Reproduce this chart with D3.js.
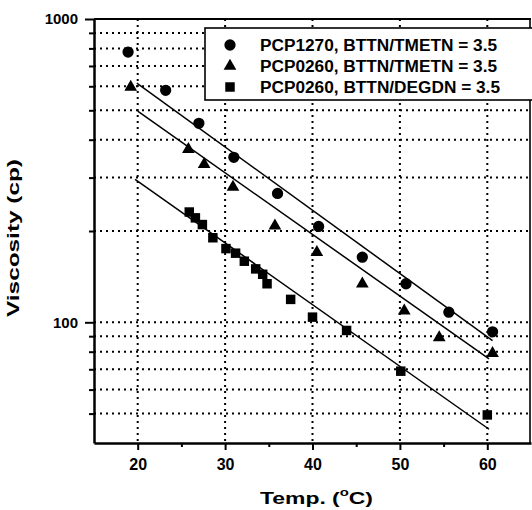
<!DOCTYPE html>
<html>
<head>
<meta charset="utf-8">
<script src="https://cdn.jsdelivr.net/npm/d3@7"></script>
<style>
body { margin: 0; background: #fff; }
svg { display: block; font-family: "Liberation Sans", Arial, sans-serif; }
</style>
</head>
<body>
<div id="chart"></div>
<script>
// PCP1270, BTTN/TMETN = 3.5
var circleTemp = [18.9, 23.2, 27.0, 31.0, 36.0, 40.7, 45.7, 50.7, 55.6, 60.6]
var circleVisc = [778, 582, 453, 350, 266, 207, 164, 134, 108, 93]
// PCP0260, BTTN/TMETN = 3.5
var triTemp = [19.2, 25.8, 27.6, 30.9, 35.7, 40.5, 45.7, 50.5, 54.5, 60.6]
var triVisc = [596, 372, 332, 279, 208, 170, 134, 109, 89, 79]
// PCP0260, BTTN/DEGDN = 3.5
var sqTemp = [25.9, 26.6, 27.4, 28.6, 30.1, 31.2, 32.2, 33.5, 34.3, 34.8, 37.5, 40.0, 43.9, 50.1, 60.0]
var sqVisc = [231, 221, 210, 190, 175, 169, 159, 150, 144, 134, 119, 104, 94, 69, 49.5]

// fitted lines (end points)
var fitTempCircle = [19.9, 60.6]
var fitViscCircle = [615, 87]
var fitTempTri = [20.0, 60.2]
var fitViscTri = [497, 75.7]
var fitTempSq = [19.7, 60.2]
var fitViscSq = [296, 44.4]

var legendLabels = ["PCP1270, BTTN/TMETN = 3.5", "PCP0260, BTTN/TMETN = 3.5", "PCP0260, BTTN/DEGDN = 3.5"]

var xTicks = [20, 25, 30, 35, 40, 45, 50, 55, 60]
var xGrid = [20, 30, 40, 50, 60]
var yTicks = [50, 60, 70, 80, 90, 100, 200, 300, 400, 500, 600, 700, 800, 900, 1000]
var yGrid = [50, 60, 70, 80, 90, 100, 200, 300, 400, 500, 600, 700, 800, 900]

var width = 532
var height = 510

var x = d3.scaleLinear().domain([15, 65]).range([94, 531])
var y = d3.scaleLog().domain([40, 1000]).range([443, 19])

var svg = d3.select("#chart")
    .append("svg")
    .attr("width", width)
    .attr("height", height)

// dotted grid
var grid = svg.append("g")
    .attr("stroke", "#000")
    .attr("stroke-width", 2)
    .attr("stroke-dasharray", "2,4")

grid.selectAll(".hg")
    .data(yGrid)
    .join("line")
    .attr("class", "hg")
    .attr("x1", x(15)).attr("x2", x(65))
    .attr("y1", d => y(d)).attr("y2", d => y(d))

grid.selectAll(".vg")
    .data(xGrid)
    .join("line")
    .attr("class", "vg")
    .attr("x1", d => x(d)).attr("x2", d => x(d))
    .attr("y1", y(1000)).attr("y2", y(40))

// frame top + right
svg.append("line")
    .attr("x1", x(15)).attr("x2", x(65))
    .attr("y1", y(1000)).attr("y2", y(1000))
    .attr("stroke", "#000").attr("stroke-width", 2)
svg.append("line")
    .attr("x1", x(65) - 1).attr("x2", x(65) - 1)
    .attr("y1", y(1000)).attr("y2", y(40))
    .attr("stroke", "#000").attr("stroke-width", 1.6)

// axes
var xAxis = svg.append("g")
    .attr("transform", "translate(0," + y(40) + ")")
    .call(d3.axisBottom(x)
        .tickValues(xTicks)
        .tickSize(7)
        .tickSizeOuter(0)
        .tickPadding(9)
        .tickFormat(d => d % 10 == 0 ? d : ""))
xAxis.select(".domain").attr("stroke-width", 2.5)
xAxis.selectAll(".tick line")
    .attr("stroke-width", 2)
    .attr("y2", d => d % 10 == 0 ? 7 : 4)
xAxis.selectAll("text")
    .attr("font-size", 16)
    .attr("font-weight", "bold")
    .attr("font-family", "'Liberation Sans', Arial, sans-serif")
    .attr("fill", "#000")

var yAxis = svg.append("g")
    .attr("transform", "translate(" + x(15) + ",0)")
    .call(d3.axisLeft(y)
        .tickValues(yTicks)
        .tickSize(5)
        .tickSizeOuter(0)
        .tickPadding(11)
        .tickFormat(d => (d == 100 || d == 1000) ? d : ""))
yAxis.select(".domain").attr("stroke-width", 2.5)
yAxis.selectAll(".tick line")
    .attr("stroke-width", 2)
    .attr("x2", d => (d == 100 || d == 1000) ? -9 : -5)
yAxis.selectAll("text")
    .attr("font-size", 15)
    .attr("font-weight", "bold")
    .attr("font-family", "'Liberation Sans', Arial, sans-serif")
    .attr("fill", "#000")

// fit lines
var fits = [
    [fitTempCircle, fitViscCircle],
    [fitTempTri, fitViscTri],
    [fitTempSq, fitViscSq]
]
var line = d3.line().x(d => x(d[0])).y(d => y(d[1]))
svg.append("g")
    .selectAll("path")
    .data(fits)
    .join("path")
    .attr("d", f => line(d3.zip(f[0], f[1])))
    .attr("fill", "none")
    .attr("stroke", "#000")
    .attr("stroke-width", 1.5)

// markers
var series = [
    { temp: circleTemp, visc: circleVisc, sym: d3.symbolCircle, size: 100 },
    { temp: triTemp, visc: triVisc, sym: d3.symbolTriangle, size: 70 },
    { temp: sqTemp, visc: sqVisc, sym: d3.symbolSquare, size: 90 }
]
series.forEach(function (s) {
    svg.append("g")
        .selectAll("path")
        .data(d3.zip(s.temp, s.visc))
        .join("path")
        .attr("transform", d => "translate(" + x(d[0]) + "," + y(d[1]) + ")")
        .attr("d", d3.symbol().type(s.sym).size(s.size))
        .attr("fill", "#000")
})

// legend
var legend = svg.append("g")
legend.append("rect")
    .attr("x", 205).attr("y", 28)
    .attr("width", 330).attr("height", 72)
    .attr("fill", "#fff")
    .attr("stroke", "#000")
    .attr("stroke-width", 1.6)
var rowY = [45, 66, 87]
legendLabels.forEach(function (lab, i) {
    legend.append("path")
        .attr("transform", "translate(230," + rowY[i] + ")")
        .attr("d", d3.symbol().type(series[i].sym).size(series[i].size))
        .attr("fill", "#000")
    legend.append("text")
        .attr("x", 260)
        .attr("y", rowY[i] + 5.5)
        .attr("font-size", 16)
        .attr("font-weight", "bold")
        .attr("textLength", i == 2 ? 240 : 237)
        .attr("lengthAdjust", "spacingAndGlyphs")
        .text(lab)
})

// axis titles
var xt = svg.append("text")
    .attr("x", 260)
    .attr("y", 504)
    .attr("font-size", 17)
    .attr("font-weight", "bold")
    .attr("textLength", 113)
    .attr("lengthAdjust", "spacingAndGlyphs")
xt.append("tspan").text("Temp. (")
xt.append("tspan").attr("font-size", 11).attr("dy", -8).text("o")
xt.append("tspan").attr("dy", 8).text("C)")

svg.append("text")
    .attr("transform", "translate(19,238) rotate(-90)")
    .attr("text-anchor", "middle")
    .attr("font-size", 16)
    .attr("font-weight", "bold")
    .attr("textLength", 158)
    .attr("lengthAdjust", "spacingAndGlyphs")
    .text("Viscosity (cp)")
</script>
</body>
</html>
